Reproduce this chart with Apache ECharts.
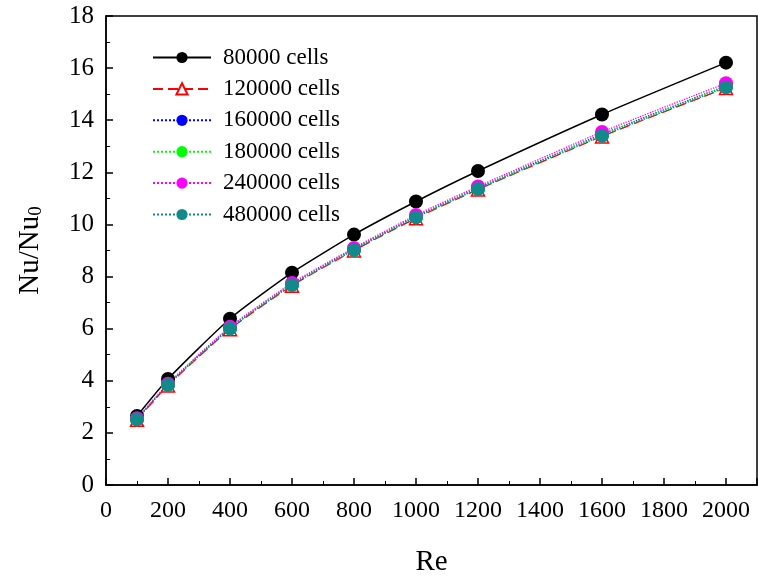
<!DOCTYPE html>
<html lang="en" style="height: 100%">
<head>
  <meta charset="utf-8" />
</head>
<body style="height: 100%; margin: 0; background: #fff">
  <div id="container" style="width: 758px; height: 577px"></div>
  <script src="https://fastly.jsdelivr.net/npm/echarts@6.0.0/dist/echarts.min.js"></script>
  <script type="text/javascript">
    var re = [100, 200, 400, 600, 800, 1000, 1200, 1600, 2000];
    var cells80k = [2.65, 4.07, 6.38, 8.15, 9.61, 10.88, 12.05, 14.22, 16.21];
    var cells120k = [2.50, 3.82, 5.98, 7.65, 9.00, 10.24, 11.34, 13.38, 15.24];
    var cells160k = [2.53, 3.86, 6.03, 7.70, 9.06, 10.30, 11.40, 13.46, 15.32];
    var cells180k = [2.52, 3.85, 6.02, 7.69, 9.04, 10.28, 11.38, 13.43, 15.30];
    var cells240k = [2.56, 3.89, 6.07, 7.75, 9.10, 10.36, 11.46, 13.55, 15.42];
    var cells480k = [2.52, 3.84, 6.00, 7.67, 9.02, 10.27, 11.36, 13.40, 15.26];

    var font = "Liberation Serif";

    function pairs(ys) {
      return re.map(function (x, i) { return [x, ys[i]]; });
    }

    function mkSeries(name, ys, color, type, symbol, fill) {
      return {
        name: name,
        type: "line",
        data: pairs(ys),
        smooth: 0.2,
        symbol: symbol,
        symbolSize: symbol === "triangle" ? 13 : 14,
        lineStyle: { color: color, width: type === "solid" ? 1.5 : 1.3, type: type },
        itemStyle: {
          color: fill ? color : "#fff",
          borderColor: color,
          borderWidth: fill ? 0 : 1.5
        },
        emphasis: { disabled: true }
      };
    }

    var dom = document.getElementById("container");
    var myChart = echarts.init(dom, null, { renderer: "canvas" });

    var option = {
      animation: false,
      textStyle: { fontFamily: font },
      legend: {
        orient: "vertical",
        left: 147,
        top: 41,
        itemWidth: 58,
        itemHeight: 14,
        itemGap: 8.4,
        textStyle: { fontFamily: font, fontSize: 23, color: "#000", padding: [0, 0, 0, 7] },
        data: ["80000 cells", "120000 cells", "160000 cells", "180000 cells", "240000 cells", "480000 cells"]
      },
      grid: {
        left: 106, right: 1, top: 16, bottom: 92,
        outerBoundsMode: "none",
        show: true, borderColor: "#000", borderWidth: 1.5, containLabel: false
      },
      xAxis: {
        type: "value",
        min: 0,
        max: 2100,
        interval: 200,
        name: "Re",
        nameLocation: "middle",
        nameGap: 63,
        nameTextStyle: { fontFamily: font, fontSize: 29, color: "#000" },
        axisLine: { lineStyle: { color: "#000", width: 1.5 } },
        axisTick: { inside: true, length: 7, lineStyle: { color: "#000", width: 1.5 } },
        minorTick: { show: true, splitNumber: 2, length: 4, lineStyle: { color: "#000", width: 1 } },
        axisLabel: {
          fontFamily: font, fontSize: 24, color: "#000", margin: 14,
          formatter: function (v) { return v > 2000 ? "" : v; }
        },
        splitLine: { show: false }
      },
      yAxis: {
        type: "value",
        min: 0,
        max: 18,
        interval: 2,
        name: "Nu/Nu{sub|0}",
        nameLocation: "middle",
        nameGap: 60,
        nameRotate: 90,
        nameTextStyle: {
          fontFamily: font, fontSize: 29, color: "#000",
          rich: { sub: { fontFamily: font, fontSize: 19, color: "#000", verticalAlign: "bottom", padding: [12, 0, 0, 0] } }
        },
        axisLine: { lineStyle: { color: "#000", width: 1.5 } },
        axisTick: { inside: true, length: 7, lineStyle: { color: "#000", width: 1.5 } },
        minorTick: { show: true, splitNumber: 2, length: 4, lineStyle: { color: "#000", width: 1 } },
        axisLabel: { fontFamily: font, fontSize: 25, color: "#000", margin: 12 },
        splitLine: { show: false }
      },
      series: [
        mkSeries("80000 cells", cells80k, "#000000", "solid", "circle", true),
        mkSeries("120000 cells", cells120k, "#ff0000", [10, 5], "triangle", false),
        mkSeries("160000 cells", cells160k, "#0000ff", "dotted", "circle", true),
        mkSeries("180000 cells", cells180k, "#00ff00", "dotted", "circle", true),
        mkSeries("240000 cells", cells240k, "#ff00ff", "dotted", "circle", true),
        mkSeries("480000 cells", cells480k, "#138a8a", "dotted", "circle", true)
      ]
    };

    myChart.setOption(option);
    window.addEventListener("resize", myChart.resize);
  </script>
</body>
</html>
